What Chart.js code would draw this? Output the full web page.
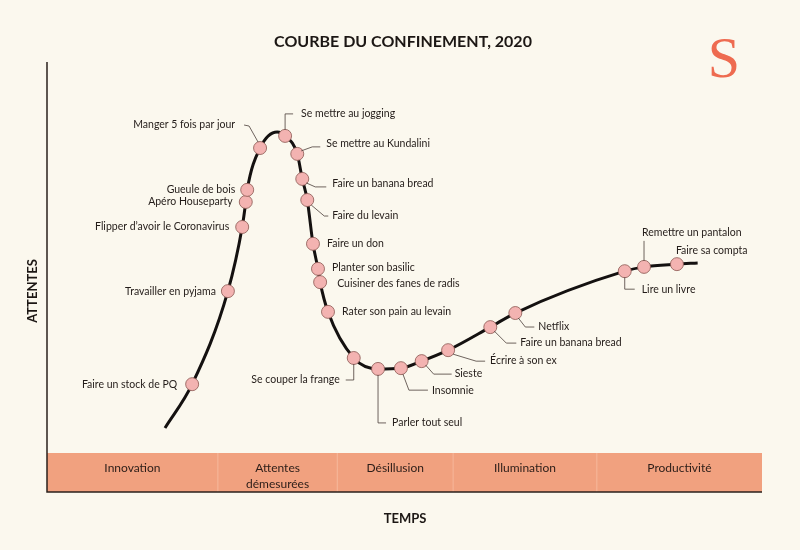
<!DOCTYPE html>
<html>
<head>
<meta charset="utf-8">
<script src="https://cdn.jsdelivr.net/npm/chart.js@4.4.0/dist/chart.umd.min.js"></script>
<style>
  html, body { margin: 0; padding: 0; background: #fbf8ee; }
  #wrap { width: 800px; height: 550px; position: relative; }
</style>
</head>
<body>
<div id="wrap"><canvas id="myChart"></canvas></div>
<script>
// étapes du confinement : temps (0-100) et attentes (0-100)
var steps = ['Faire un stock de PQ', 'Travailler en pyjama', "Flipper d\u2019avoir le Coronavirus", 'Apéro Houseparty', 'Gueule de bois',
    'Manger 5 fois par jour', 'Se mettre au jogging', 'Se mettre au Kundalini', 'Faire un banana bread', 'Faire du levain',
    'Faire un don', 'Planter son basilic', 'Cuisiner des fanes de radis', 'Rater son pain au levain', 'Se couper la frange',
    'Parler tout seul', 'Insomnie', 'Sieste', 'Écrire à son ex', 'Faire un banana bread', 'Netflix',
    'Lire un livre', 'Remettre un pantalon', 'Faire sa compta'];
var stepTime = [20.3, 25.3, 27.3, 27.8, 28.0, 29.8, 33.3, 35.0, 35.7, 36.4, 37.2, 37.9, 38.2, 39.3, 42.9, 46.3, 49.5, 52.4, 56.1, 62.0, 65.5, 80.8, 83.5, 88.1];
var stepExpect = [17.6, 41.4, 57.8, 64.2, 67.3, 78.0, 81.1, 76.5, 70.1, 64.7, 53.5, 47.1, 43.7, 36.1, 24.3, 21.5, 21.7, 23.5, 26.3, 32.2, 35.8, 46.5, 47.6, 48.3];
// début, sommet et fin de la courbe
var curveStart = [16.5, 6.4];
var curvePeak = [32.2, 82.1];
var curveEnd = [91.0, 48.6];
// phases sur l'axe du temps
var phases = [['Innovation'], ['Attentes', 'démesurées'], ['Désillusion'], ['Illumination'], ['Productivité']];
var phaseEnds = [23.9, 40.6, 56.8, 76.9, 100];

// placement des étiquettes (px, relatif au point)
var place = [
    {tx: -15, ty: 0, al: 'right'},
    {tx: -12, ty: 0, al: 'right'},
    {tx: -13, ty: 0, al: 'right'},
    {tx: -13, ty: 0, al: 'right'},
    {tx: -12, ty: 0, al: 'right'},
    {tx: -25, ty: -23, al: 'right', path: [[-2, -6], [-11, -22], [-16, -23]]},
    {tx: 16, ty: -22, al: 'left', path: [[0, -6], [0, -22], [8, -22]]},
    {tx: 29, ty: -10, al: 'left', path: [[4, -3], [15, -7], [23, -7]]},
    {tx: 30, ty: 5, al: 'left', path: [[4, 4], [13, 8], [24, 8]]},
    {tx: 25, ty: 16, al: 'left', path: [[4, 5], [17, 16], [21, 16]]},
    {tx: 14, ty: 0, al: 'left'},
    {tx: 14, ty: -1, al: 'left'},
    {tx: 17, ty: 1, al: 'left'},
    {tx: 14, ty: 0, al: 'left'},
    {tx: -14, ty: 22, al: 'right', path: [[0, 6], [0, 22], [-8, 22]]},
    {tx: 14, ty: 54, al: 'left', path: [[0, 6], [0, 54], [8, 54]]},
    {tx: 31, ty: 22, al: 'left', path: [[2, 6], [8, 22], [27, 22]]},
    {tx: 33, ty: 12, al: 'left', path: [[4, 4], [12, 13], [30, 13]]},
    {tx: 42, ty: 10, al: 'left', path: [[5, 4], [28, 11], [37, 11]]},
    {tx: 30, ty: 16, al: 'left', path: [[4, 4], [16, 16], [26, 16]]},
    {tx: 23, ty: 14, al: 'left', path: [[3, 5], [10, 14], [19, 14]]},
    {tx: 17, ty: 18, al: 'left', path: [[0, 6], [0, 18], [10, 18]]},
    {tx: -2, ty: -34, al: 'left', path: [[0, -6], [0, -26]]},
    {tx: -1, ty: -14, al: 'left'}
];

var FONT = 'Lato, "Open Sans", sans-serif';
var markers = stepTime.map(function (t, i) { return {x: t, y: stepExpect[i]}; });
var curve = [{x: curveStart[0], y: curveStart[1]}].concat(markers.slice(0, 6), [{x: curvePeak[0], y: curvePeak[1]}], markers.slice(6), [{x: curveEnd[0], y: curveEnd[1]}]);

var decor = {
    id: 'decor',
    beforeDraw: function (chart) {
        var c = chart.ctx;
        c.save();
        c.fillStyle = '#fbf8ee';
        c.fillRect(0, 0, chart.width, chart.height);
        c.restore();
    },
    afterDraw: function (chart) {
        var c = chart.ctx, a = chart.chartArea, xs = chart.scales.x;
        var bandTop = a.bottom, bandBot = a.bottom + 39;
        c.save();
        // bande des phases
        c.fillStyle = '#f1a17f';
        c.fillRect(a.left, bandTop, a.right - a.left, bandBot - bandTop);
        var prev = 0;
        c.font = '12px ' + FONT;
        c.textAlign = 'center';
        c.textBaseline = 'middle';
        phases.forEach(function (p, i) {
            var x0 = xs.getPixelForValue(prev), x1 = xs.getPixelForValue(phaseEnds[i]);
            if (i > 0) {
                c.strokeStyle = '#f6b89c';
                c.lineWidth = 1;
                c.beginPath(); c.moveTo(x0, bandTop); c.lineTo(x0, bandBot); c.stroke();
            }
            c.fillStyle = '#2b1d18';
            p.forEach(function (line, k) {
                c.fillText(line, (x0 + x1) / 2, bandTop + 15 + k * 16);
            });
            prev = phaseEnds[i];
        });
        // axes
        c.strokeStyle = '#2b211d';
        c.lineWidth = 1.5;
        c.beginPath();
        c.moveTo(a.left, 62); c.lineTo(a.left, bandBot); c.lineTo(a.right, bandBot);
        c.stroke();
        // titres
        c.fillStyle = '#1c1714';
        c.font = 'bold 16px ' + FONT;
        c.fillText('COURBE DU CONFINEMENT, 2020', 403, 42);
        c.font = 'bold 13px ' + FONT;
        c.fillText('TEMPS', 405, 519);
        c.save();
        c.translate(33, 291);
        c.rotate(-Math.PI / 2);
        c.fillText('ATTENTES', 0, 0);
        c.restore();
        c.fillStyle = '#ee6b50';
        c.font = '58px "Liberation Serif", serif';
        c.fillText('S', 724, 62);
        c.restore();
    },
    afterDatasetsDraw: function (chart) {
        var c = chart.ctx, pts = chart.getDatasetMeta(1).data;
        c.save();
        c.font = '10.5px ' + FONT;
        c.textBaseline = 'middle';
        pts.forEach(function (p, i) {
            var pl = place[i];
            if (pl.path) {
                c.strokeStyle = '#4a3e39';
                c.lineWidth = 0.8;
                c.beginPath();
                pl.path.forEach(function (d, k) {
                    if (k === 0) c.moveTo(p.x + d[0], p.y + d[1]);
                    else c.lineTo(p.x + d[0], p.y + d[1]);
                });
                c.stroke();
            }
            c.fillStyle = '#231c19';
            c.textAlign = pl.al;
            c.fillText(steps[i], p.x + pl.tx, p.y + pl.ty);
        });
        c.restore();
    }
};

var ctx = document.getElementById('myChart').getContext('2d');
var chart = new Chart(ctx, {
    type: 'scatter',
    data: {
        datasets: [{
            data: curve,
            showLine: true,
            borderColor: '#141110',
            borderWidth: 3,
            cubicInterpolationMode: 'monotone',
            pointRadius: 0,
            clip: false,
            order: 2
        }, {
            data: markers,
            pointRadius: 6.5,
            pointBackgroundColor: '#f3b3b1',
            pointBorderColor: '#8a5751',
            pointBorderWidth: 0.8,
            clip: false,
            order: 1
        }]
    },
    options: {
        responsive: true,
        maintainAspectRatio: false,
        animation: false,
        layout: {padding: {left: 47, right: 38, top: 62, bottom: 97}},
        plugins: {legend: {display: false}, tooltip: {enabled: false}},
        scales: {
            x: {type: 'linear', min: 0, max: 100, display: false},
            y: {type: 'linear', min: 0, max: 100, display: false}
        }
    },
    plugins: [decor]
});
</script>
</body>
</html>
